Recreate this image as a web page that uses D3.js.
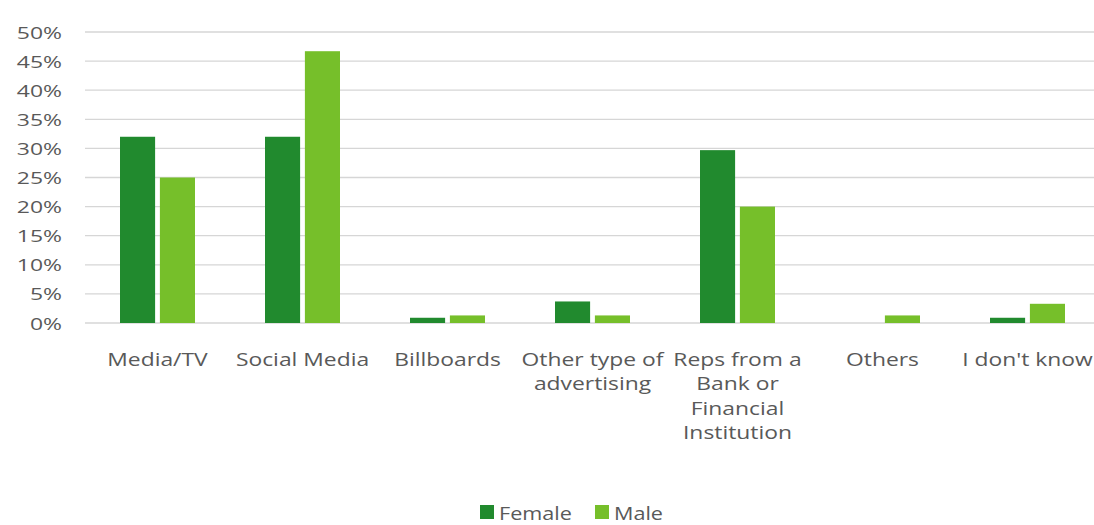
<!DOCTYPE html>
<html>
<head>
<meta charset="utf-8">
<script src="https://cdn.jsdelivr.net/npm/d3@7"></script>
<style>
  html, body { margin: 0; padding: 0; background: #fff; }
  svg { display: block; font-family: "Open Sans", "Noto Sans", sans-serif; }
</style>
</head>
<body>
<svg id="chart" width="1094" height="525"></svg>
<script>
// Sources of information, share of respondents by gender
const categories = [
  "Media/TV",
  "Social Media",
  "Billboards",
  "Other type of\nadvertising",
  "Reps from a\nBank or\nFinancial\nInstitution",
  "Others",
  "I don't know"
];
const seriesNames = ["Female", "Male"];
const female = [0.32, 0.32, 0.009, 0.037, 0.297, 0, 0.009];
const male   = [0.25, 0.467, 0.013, 0.013, 0.20, 0.013, 0.033];
const yTicks = [0, 0.05, 0.10, 0.15, 0.20, 0.25, 0.30, 0.35, 0.40, 0.45, 0.50];
const colors = ["#218a2e", "#76bf2a"];

const svg = d3.select("#chart");
const W = 1094, H = 525;
const margin = { left: 85, right: -6, top: 32, bottom: 202 };
const plotW = W - margin.left - margin.right;
const plotH = H - margin.top - margin.bottom;
const textColor = "#595959";
const stretch = 1.27; // wide lettering

const x = d3.scaleBand().domain(categories).range([margin.left, margin.left + plotW]);
const groupW = 75;
const xs = d3.scaleBand().domain(seriesNames).range([0, groupW]).paddingInner(0.12);
const y = d3.scaleLinear().domain([0, 0.5]).range([margin.top + plotH, margin.top]);

// horizontal gridlines
svg.append("g")
  .selectAll("line")
  .data(yTicks)
  .join("line")
  .attr("x1", margin.left)
  .attr("x2", W)
  .attr("y1", d => y(d))
  .attr("y2", d => y(d))
  .attr("stroke", "#d6d6d6")
  .attr("stroke-width", 1.3);

// y axis labels (axis generator for tick placement, text widened afterwards)
const yAxis = d3.axisLeft(y).tickValues(yTicks).tickFormat(d3.format(".0%")).tickSize(0).tickPadding(0);
const gy = svg.append("g").attr("transform", "translate(62,0)").call(yAxis);
gy.select(".domain").remove();
gy.attr("font-family", null).attr("font-size", null);
gy.selectAll("text")
  .attr("fill", textColor)
  .attr("dy", null)
  .attr("y", 6)
  .attr("transform", `scale(${stretch + 0.08},1)`)
  .style("font-size", "17px");

// bars
const rows = categories.map((c, i) => ({ c, vals: [female[i], male[i]] }));
const groups = svg.append("g")
  .selectAll("g")
  .data(rows)
  .join("g")
  .attr("transform", d => `translate(${x(d.c) + (x.bandwidth() - groupW) / 2},0)`);
groups.selectAll("rect")
  .data(d => d.vals.map((v, k) => ({ v, s: seriesNames[k], k })))
  .join("rect")
  .attr("x", d => xs(d.s))
  .attr("width", xs.bandwidth())
  .attr("y", d => y(d.v))
  .attr("height", d => y(0) - y(d.v))
  .attr("fill", d => colors[d.k]);

// category labels
const labels = svg.append("g")
  .selectAll("text")
  .data(categories)
  .join("text")
  .attr("transform", d => `translate(${x(d) + x.bandwidth() / 2},366) scale(${stretch},1)`)
  .attr("text-anchor", "middle")
  .attr("fill", textColor)
  .style("font-size", "18px");
labels.selectAll("tspan")
  .data(d => d.split("\n"))
  .join("tspan")
  .attr("x", 0)
  .attr("dy", (d, i) => i === 0 ? 0 : 24.3)
  .text(d => d);

// legend
const legend = svg.append("g").attr("transform", "translate(480,512)");
const items = [{ name: seriesNames[0], dx: 0 }, { name: seriesNames[1], dx: 115 }];
items.forEach((it, k) => {
  const g = legend.append("g").attr("transform", `translate(${it.dx},0)`);
  g.append("rect").attr("x", 0).attr("y", -7).attr("width", 14).attr("height", 14).attr("fill", colors[k]);
  g.append("text")
    .attr("transform", `translate(19,7.5) scale(1.2,1)`)
    .attr("fill", textColor)
    .style("font-size", "18px")
    .text(it.name);
});
</script>
</body>
</html>
